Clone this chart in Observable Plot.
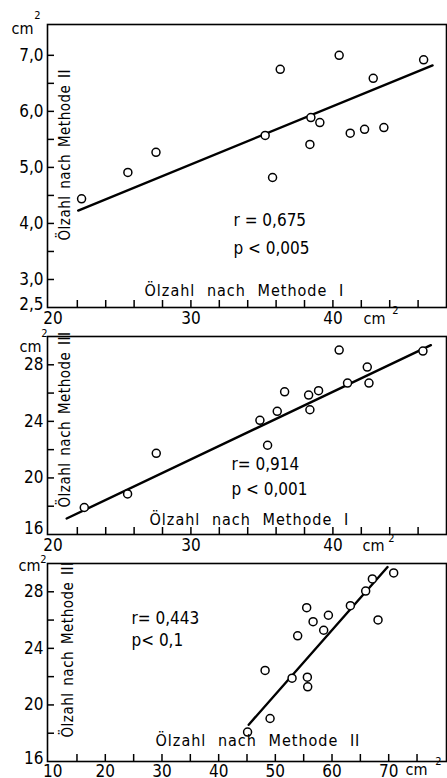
<!DOCTYPE html>
<html>
<head>
<meta charset="utf-8">
<script src="https://cdn.jsdelivr.net/npm/d3@7"></script>
<script src="https://cdn.jsdelivr.net/npm/@observablehq/plot@0.6"></script>
<style>
  html, body { margin: 0; padding: 0; background: #fff; }
  #chart { position: relative; width: 447px; height: 778px; overflow: hidden; }
  #chart svg { position: absolute; left: 0; overflow: visible; }
  #chart text { font-family: "DejaVu Sans Condensed", "DejaVu Sans", sans-serif; font-stretch: condensed; }
  .xlbl { letter-spacing: 1px; word-spacing: 6px; }
  .ylbl { letter-spacing: 0.5px; word-spacing: 2px; }
</style>
</head>
<body>
<div id="chart"></div>
<script>
// ---- Panel 1: Methode I (x) vs Methode II (y)
const p1X = [22.3, 25.56, 27.54, 35.23, 35.75, 36.29, 38.45, 38.38, 39.08, 40.44, 41.22, 42.23, 42.84, 43.59, 46.39];
const p1Y = [4.44, 4.91, 5.27, 5.57, 4.82, 6.75, 5.89, 5.41, 5.80, 7.00, 5.61, 5.68, 6.59, 5.71, 6.92];
const p1LineX = [22.06, 47.02];
const p1LineY = [4.23, 6.82];
const p1XTickLabels = ["20", "30", "40"];
const p1XTickLabelValues = [20, 30, 40];
const p1XTicks = [22, 24, 26, 28, 30, 32, 34, 36, 38, 40, 42, 44, 46];
const p1YTickLabels = ["2,5", "3,0", "4,0", "5,0", "6,0", "7,0"];
const p1YTickLabelValues = [2.5, 3, 4, 5, 6, 7];
const p1YTicks = [3, 3.5, 4, 4.5, 5, 5.5, 6, 6.5, 7];
const p1Stats = ["r = 0,675", "p < 0,005"];
const p1XLabel = "Ölzahl nach Methode I";
const p1YLabel = "Ölzahl nach Methode II";

// ---- Panel 2: Methode I (x) vs Methode III (y)
const p2X = [22.49, 25.54, 27.56, 34.86, 35.40, 36.08, 36.60, 38.29, 38.38, 38.99, 40.44, 41.03, 42.42, 42.54, 46.34];
const p2Y = [17.91, 18.87, 21.74, 24.07, 22.31, 24.71, 26.09, 25.86, 24.82, 26.17, 29.04, 26.71, 27.84, 26.71, 28.97];
const p2LineX = [21.25, 46.9];
const p2LineY = [17.13, 29.39];
const p2XTickLabels = ["20", "30", "40"];
const p2XTickLabelValues = [20, 30, 40];
const p2XTicks = [22, 24, 26, 28, 30, 32, 34, 36, 38, 40, 42, 44, 46];
const p2YTickLabels = ["16", "20", "24", "28"];
const p2YTickLabelValues = [16, 20, 24, 28];
const p2YTicks = [18, 20, 22, 24, 26, 28];
const p2Stats = ["r= 0,914", "p < 0,001"];
const p2XLabel = "Ölzahl nach Methode I";
const p2YLabel = "Ölzahl nach Methode III";

// ---- Panel 3: Methode II (x) vs Methode III (y)
const p3X = [45.1, 49.07, 48.19, 52.95, 55.65, 55.71, 53.94, 55.53, 56.66, 58.53, 59.36, 63.24, 65.94, 67.12, 68.12, 70.88];
const p3Y = [18.08, 19.04, 22.44, 21.89, 21.96, 21.28, 24.89, 26.88, 25.89, 25.28, 26.34, 27.02, 28.05, 28.91, 26.01, 29.33];
const p3LineX = [45.3, 69.8];
const p3LineY = [18.6, 29.75];
const p3XTickLabels = ["10", "20", "30", "40", "50", "60", "70"];
const p3XTickLabelValues = [10, 20, 30, 40, 50, 60, 70];
const p3XTicks = [15, 20, 25, 30, 35, 40, 45, 50, 55, 60, 65, 70, 75];
const p3YTickLabels = ["16", "20", "24", "28"];
const p3YTickLabelValues = [16, 20, 24, 28];
const p3YTicks = [18, 20, 22, 24, 26, 28];
const p3Stats = ["r= 0,443", "p< 0,1"];
const p3XLabel = "Ölzahl nach Methode II";
const p3YLabel = "Ölzahl nach Methode III";

const unitLabel = "cm";
const unitSup = "2";

const TICKFONT = "17px";
const STATFONT = "17px";
const XTFONT = "16px";
const YTFONT = "15px";

function panel(cfg) {
  const W = 447, ml = 47, mr = 1;
  const innerW = W - ml - mr;
  const innerH = cfg.height - cfg.mt - cfg.mb;
  const pts = cfg.xs.map((x, i) => ({x, y: cfg.ys[i]}));
  const line = cfg.lx.map((x, i) => ({x, y: cfg.ly[i]}));
  const xfmt = d => cfg.xLabels[cfg.xLabelVals.indexOf(d)];
  const yfmt = d => cfg.yLabels[cfg.yLabelVals.indexOf(d)];
  const svg = Plot.plot({
    width: W,
    height: cfg.height,
    marginLeft: ml,
    marginRight: mr,
    marginTop: cfg.mt,
    marginBottom: cfg.mb,
    style: {fontSize: TICKFONT, background: "transparent", color: "#000", overflow: "visible"},
    x: {domain: cfg.xDomain},
    y: {domain: cfg.yDomain},
    marks: [
      Plot.frame({stroke: "#000", strokeWidth: 1.6}),
      Plot.tickX(cfg.xTicks, {x: d => d, insetTop: innerH - 7, stroke: "#000", strokeWidth: 1.5}),
      Plot.tickY(cfg.yTicks, {y: d => d, insetRight: innerW - 7, stroke: "#000", strokeWidth: 1.5}),
      // first tick label sits slightly off its tick, as in the original lettering
      Plot.axisX(cfg.xLabelVals.slice(0, 1), {tickSize: 0, tickPadding: cfg.xpad, label: null, fontSize: TICKFONT, dx: 4, tickFormat: xfmt}),
      Plot.axisX(cfg.xLabelVals.slice(1), {tickSize: 0, tickPadding: cfg.xpad, label: null, fontSize: TICKFONT, tickFormat: xfmt}),
      Plot.axisY(cfg.yLabelVals.slice(0, 1), {tickSize: 0, tickPadding: 4, label: null, fontSize: TICKFONT, dy: cfg.y0dy, tickFormat: yfmt}),
      Plot.axisY(cfg.yLabelVals.slice(1), {tickSize: 0, tickPadding: 4, label: null, fontSize: TICKFONT, tickFormat: yfmt}),
      Plot.line(line, {x: "x", y: "y", stroke: "#000", strokeWidth: 2.4}),
      Plot.dot(pts, {x: "x", y: "y", r: 4, stroke: "#000", strokeWidth: 1.5, fill: "#fff"}),
      // statistics
      Plot.text([cfg.stats[0]], {frameAnchor: "top-left", dx: cfg.sx, dy: cfg.sy1, textAnchor: "start", lineAnchor: "middle", fontSize: STATFONT}),
      Plot.text([cfg.stats[1]], {frameAnchor: "top-left", dx: cfg.sx, dy: cfg.sy2, textAnchor: "start", lineAnchor: "middle", fontSize: STATFONT}),
      // inner axis titles
      Plot.text([cfg.xTitle], {frameAnchor: "bottom-left", dx: cfg.xtx, dy: -cfg.xty, textAnchor: "start", lineAnchor: "middle", fontSize: XTFONT, className: "xlbl"}),
      Plot.text([cfg.yTitle], {frameAnchor: "bottom-left", dx: cfg.ytx, dy: -cfg.yty, rotate: -90, textAnchor: "start", lineAnchor: "middle", fontSize: YTFONT, className: "ylbl"}),
      // units
      Plot.text([unitLabel], {frameAnchor: "top-left", dx: cfg.u1[0], dy: cfg.u1[1], textAnchor: "end", lineAnchor: "middle", fontSize: "16px"}),
      Plot.text([unitSup], {frameAnchor: "top-left", dx: cfg.u1[2], dy: cfg.u1[3], textAnchor: "middle", lineAnchor: "middle", fontSize: "11px"}),
      Plot.text([unitLabel], {frameAnchor: "bottom-right", dx: cfg.u2[0], dy: cfg.u2[1], textAnchor: "start", lineAnchor: "middle", fontSize: "16px"}),
      Plot.text([unitSup], {frameAnchor: "bottom-right", dx: cfg.u2[2], dy: cfg.u2[3], textAnchor: "middle", lineAnchor: "middle", fontSize: "11px"})
    ]
  });
  svg.style.top = cfg.top + "px";
  return svg;
}

const root = document.getElementById("chart");

root.appendChild(panel({
  top: 0, height: 330, mt: 24, mb: 23,
  xDomain: [19.9, 48], yDomain: [2.5, 7.55],
  xs: p1X, ys: p1Y, lx: p1LineX, ly: p1LineY,
  xTicks: p1XTicks, yTicks: p1YTicks,
  xLabels: p1XTickLabels, xLabelVals: p1XTickLabelValues, xpad: 4,
  yLabels: p1YTickLabels, yLabelVals: p1YTickLabelValues, y0dy: -3,
  stats: p1Stats, sx: 186, sy1: 196, sy2: 224,
  xTitle: p1XLabel, xtx: 97, xty: 17,
  yTitle: p1YLabel, ytx: 18, yty: 67,
  u1: [-14, 4, -10, -9], u2: [-83, 11, -51, 3]
}));

root.appendChild(panel({
  top: 312, height: 245, mt: 24, mb: 23,
  xDomain: [19.9, 48], yDomain: [16, 30],
  xs: p2X, ys: p2Y, lx: p2LineX, ly: p2LineY,
  xTicks: p2XTicks, yTicks: p2YTicks,
  xLabels: p2XTickLabels, xLabelVals: p2XTickLabelValues, xpad: 4,
  yLabels: p2YTickLabels, yLabelVals: p2YTickLabelValues, y0dy: -6,
  stats: p2Stats, sx: 184, sy1: 128, sy2: 153,
  xTitle: p2XLabel, xtx: 102, xty: 15,
  yTitle: p2YLabel, ytx: 18, yty: 27,
  u1: [-6, 10, -3, -3], u2: [-84, 11, -55, 4]
}));

root.appendChild(panel({
  top: 539, height: 239, mt: 24, mb: 17,
  xDomain: [9.8, 80.2], yDomain: [16, 30],
  xs: p3X, ys: p3Y, lx: p3LineX, ly: p3LineY,
  xTicks: p3XTicks, yTicks: p3YTicks,
  xLabels: p3XTickLabels, xLabelVals: p3XTickLabelValues, xpad: 3,
  yLabels: p3YTickLabels, yLabelVals: p3YTickLabelValues, y0dy: -3,
  stats: p3Stats, sx: 84, sy1: 55, sy2: 77,
  xTitle: p3XLabel, xtx: 108, xty: 21,
  yTitle: p3YLabel, ytx: 21, yty: 24,
  u1: [-7, 2, -4, -4], u2: [-41, 8, -8, 0]
}));
</script>
</body>
</html>
